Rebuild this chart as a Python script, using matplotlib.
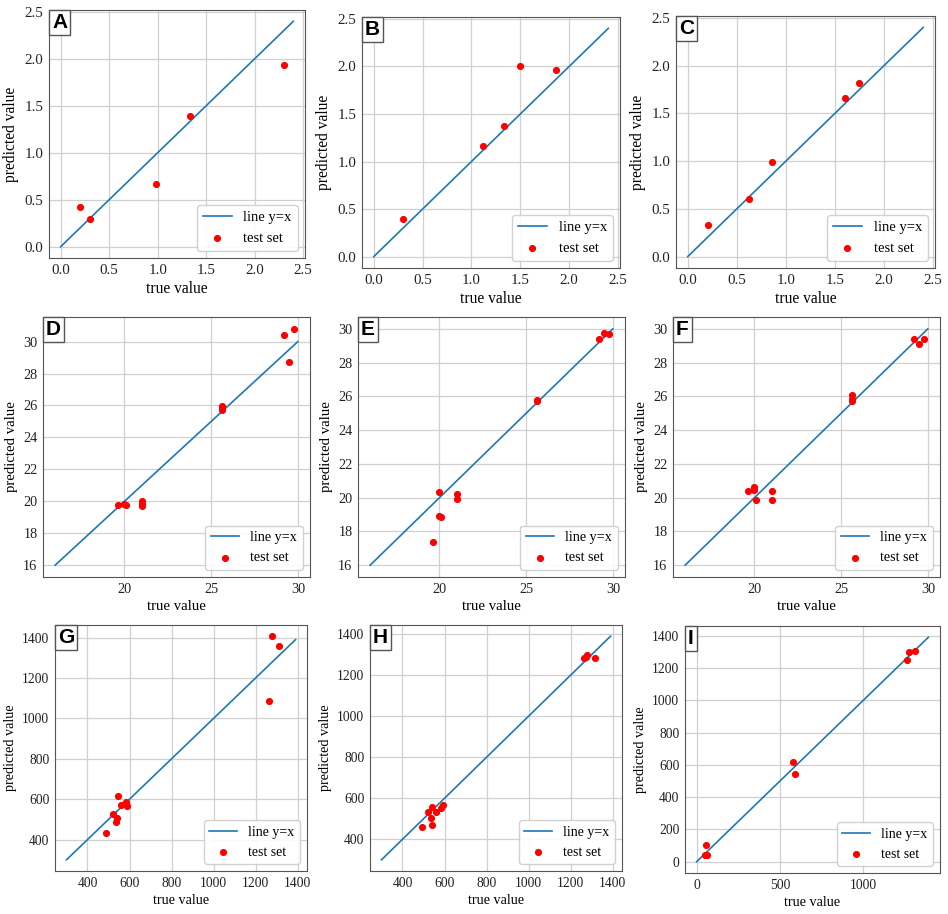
import matplotlib
matplotlib.use("Agg")
import matplotlib.pyplot as plt

plt.rcParams['font.family'] = ['Liberation Serif', 'DejaVu Serif']

panel_labels = ["A", "B", "C", "D", "E", "F", "G", "H", "I"]

# --- data ---
a_true = [0.2, 0.3, 0.98, 1.33, 2.3]
a_pred = [0.42, 0.30, 0.67, 1.39, 1.93]
b_true = [0.3, 1.12, 1.33, 1.5, 1.86]
b_pred = [0.40, 1.16, 1.37, 2.00, 1.96]
c_true = [0.21, 0.62, 0.86, 1.6, 1.75]
c_pred = [0.33, 0.60, 0.99, 1.66, 1.82]

d_true = [19.6, 20.0, 20.1, 21.0, 21.0, 21.0, 25.6, 25.6, 25.6, 29.2, 29.5, 29.8]
d_pred = [19.77, 19.8, 19.75, 20.0, 19.82, 19.68, 25.95, 25.82, 25.70, 30.42, 28.74, 30.8]
e_true = [19.6, 20.0, 20.0, 20.1, 21.0, 21.0, 25.6, 25.65, 29.2, 29.5, 29.8]
e_pred = [17.39, 20.36, 18.93, 18.87, 20.2, 19.9, 25.78, 25.72, 29.4, 29.76, 29.68]
f_true = [19.6, 20.0, 20.0, 20.1, 21.0, 21.0, 25.6, 25.6, 25.6, 29.2, 29.5, 29.8]
f_pred = [20.42, 20.61, 20.46, 19.84, 20.42, 19.88, 26.06, 25.86, 25.72, 29.4, 29.1, 29.4]

g_true = [1276, 1311, 1264, 543, 582, 560, 590, 522, 539, 538, 490]
g_pred = [1407, 1357, 1085, 614, 587, 571, 566, 526, 509, 488, 433]
h_true = [1280, 1264, 1274, 1315, 540, 520, 561, 583, 591, 537, 539, 491]
h_pred = [1296, 1283, 1288, 1283, 556, 532, 535, 553, 566, 504, 468, 458]
i_true = [1273, 1307, 1259, 579, 589, 54, 52, 60]
i_pred = [1297, 1305, 1250, 616, 544, 103, 45, 45]

line_start = [0, 0, 0, 16, 16, 16, 300, 300, 0]
line_end = [2.4, 2.4, 2.4, 30, 30, 30, 1390, 1390, 1390]

ticks_small = [0.0, 0.5, 1.0, 1.5, 2.0, 2.5]
ticks_mid_x = [20, 25, 30]
ticks_mid_y = [16, 18, 20, 22, 24, 26, 28, 30]
ticks_big = [400, 600, 800, 1000, 1200, 1400]
ticks_i_x = [0, 500, 1000]
ticks_i_y = [0, 200, 400, 600, 800, 1000, 1200, 1400]

x_ticks = [ticks_small] * 3 + [ticks_mid_x] * 3 + [ticks_big] * 2 + [ticks_i_x]
y_ticks = [ticks_small] * 3 + [ticks_mid_y] * 3 + [ticks_big] * 2 + [ticks_i_y]

trues = [a_true, b_true, c_true, d_true, e_true, f_true, g_true, h_true, i_true]
preds = [a_pred, b_pred, c_pred, d_pred, e_pred, f_pred, g_pred, h_pred, i_pred]

# axes boxes in pixels (left, top, right, bottom)
boxes = [
    (49, 10, 305, 258), (362, 17, 620, 268), (676, 16, 935, 268),
    (43, 317, 310, 577), (358, 317, 625, 577), (673, 317, 940, 577),
    (55, 625, 307, 871), (370, 625, 622, 871), (685, 626, 940, 873),
]
tick_fs = [10.8] * 3 + [10.3] * 3 + [9.8] * 3
label_fs = [11.2] * 3 + [10.6] * 3 + [10.2] * 3
legend_fs = [10.5] * 3 + [10.2] * 3 + [10.0] * 3

W, H = 948, 914
fig = plt.figure(figsize=(W / 100, H / 100), dpi=100, facecolor="white")

for k in range(9):
    l, t, r, b = boxes[k]
    ax = fig.add_axes([l / W, 1 - b / H, (r - l) / W, (b - t) / H])
    ax.grid(True, color="#d0d0d0", linewidth=0.9)
    ax.set_axisbelow(True)
    ax.plot([line_start[k], line_end[k]], [line_start[k], line_end[k]],
            color="#1f77b4", linewidth=1.2, label="line y=x")
    ax.scatter(trues[k], preds[k], color="red", s=17, zorder=3, label="test set")
    ax.set_xticks(x_ticks[k])
    ax.set_yticks(y_ticks[k])
    if k < 3:
        ax.set_xticklabels([f"{v:.1f}" for v in x_ticks[k]])
        ax.set_yticklabels([f"{v:.1f}" for v in y_ticks[k]])
    for sp in ax.spines.values():
        sp.set_color("#555555")
    ax.tick_params(labelsize=tick_fs[k], colors="#222222", length=0, pad=4)
    ax.set_xlabel("true value", fontsize=label_fs[k], labelpad=3)
    ax.set_ylabel("predicted value", fontsize=label_fs[k], labelpad=4)
    ax.legend(loc="lower right", fontsize=legend_fs[k], scatterpoints=1,
              framealpha=0.9, edgecolor="#cccccc")
    ax.annotate(panel_labels[k], xy=(0, 1), xycoords="axes fraction",
                xytext=(2.2, -2.2), textcoords="offset points",
                ha="left", va="top", fontsize=15, fontweight="bold",
                family="Liberation Sans", zorder=5,
                bbox=dict(boxstyle="square,pad=0.15", facecolor="white",
                          edgecolor="#555555", linewidth=1.0))

fig.savefig("out.png", dpi=100, facecolor="white")
